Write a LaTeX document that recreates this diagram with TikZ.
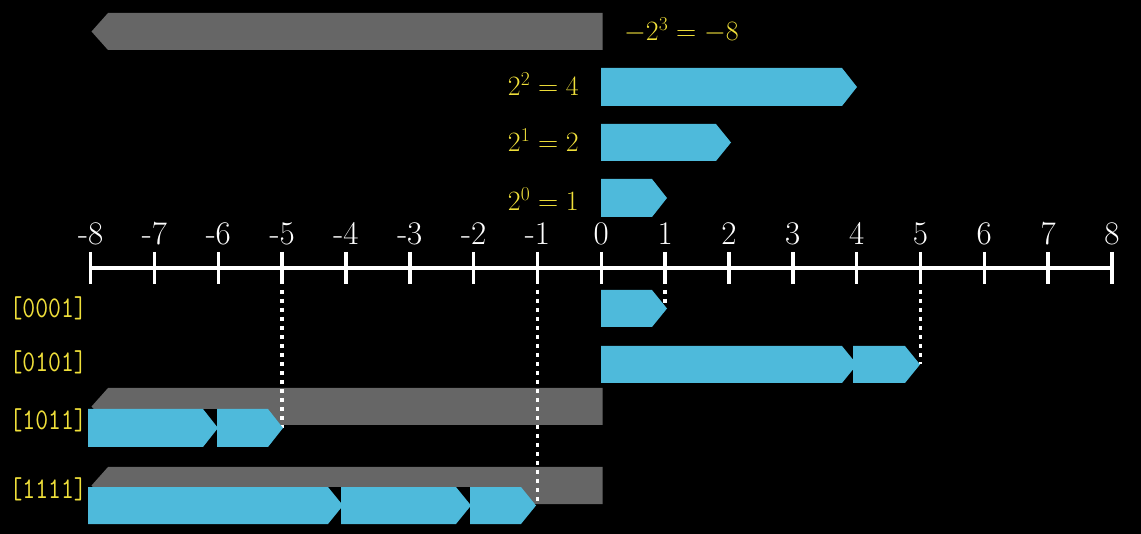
\documentclass[tikz,border=0pt]{standalone}
\usepackage{fix-cm}
\usepackage{fontspec}
\definecolor{bluec}{HTML}{4EBADB}
\definecolor{greyc}{HTML}{666666}
\definecolor{yel}{HTML}{F0E03A}
\tikzset{
  ticklab/.style={text=white, font=\fontsize{33}{36}\selectfont, anchor=base, inner sep=0pt},
  powlab/.style={text=yel, font=\fontsize{28}{32}\selectfont, inner sep=0pt},
  bitlab/.style={text=yel, font=\ttfamily\fontsize{25}{28}\selectfont, anchor=base east, inner sep=0pt},
  dotline/.style={white, line width=3.5pt, dash pattern=on 4pt off 5pt},
  axisline/.style={white, line width=4pt},
  tickline/.style={white, line width=3.5pt},
  bluefill/.style={fill=bluec},
  greyfill/.style={fill=greyc},
  notch/.style={fill=black},
}
\newcommand\bluebar[5]{%
  \fill[bluefill] (#1,#3) -- ({#2-15},#3) -- (#2,{(#3+#4)/2}) -- ({#2-15},#4) -- (#1,#4) -- cycle;
  \coordinate (#5) at (#2,{(#3+#4)/2});
}
\newcommand\greybar[2]{%
  \fill[greyfill] (602.5,#1) -- (108,#1) -- (91.5,{(#1+#2)/2}) -- (108,#2) -- (602.5,#2) -- cycle;
}
\newcommand\bits[1]{\scalebox{1}[1.2]{#1}}
\begin{document}
\begin{tikzpicture}[x=1pt,y=-1pt]
\fill[black] (0,0) rectangle (1141,534);
\useasboundingbox (0,0) rectangle (1141,534);

% powers
\greybar{13}{50}
\node[powlab, anchor=base west] (p3) at (624,41) {$-2^3=-8$};
\bluebar{601}{857}{68}{106}{b4}
\node[powlab, anchor=base east] (p2) at (579,96) {$2^2=4$};
\bluebar{601}{731}{124}{161}{b2}
\node[powlab, anchor=base east] (p1) at (579,151.5) {$2^1=2$};
\bluebar{601}{667}{179}{217}{b1}
\node[powlab, anchor=base east] (p0) at (579,210.5) {$2^0=1$};

% number line
\draw[axisline] (90.7,268) -- (1112,268);
\foreach \i in {-8,...,8}{
  \pgfmathsetmacro\xx{601.3+63.83*\i}
  \draw[tickline] (\xx,252) -- (\xx,284);
  \coordinate (t\i) at (\xx,290);
  \node[ticklab] (l\i) at (\xx,245) {\i};
}

% grey backgrounds of negative rows
\greybar{388}{425}
\greybar{467}{504}
\fill[notch] (88,409) rectangle (217,447);
\fill[notch] (88,487) rectangle (470,524);

% tip coordinates for dotted guides
\coordinate (r1) at (667,308.5);
\coordinate (r5) at (920,364.5);
\coordinate (rm5) at (283,428);
\coordinate (rm1) at (536,505.5);
\draw[dotline] (t1) -- (t1 |- r1);
\draw[dotline] (t5) -- (t5 |- r5);
\draw[dotline] (t-5) -- (t-5 |- rm5);
\draw[dotline] (t-1) -- (t-1 |- rm1);

% rows
\bluebar{601}{667}{290}{327}{s1}
\bluebar{601}{857}{346}{383}{s4}
\bluebar{853}{920}{346}{383}{s5}
\bluebar{88}{218}{409}{447}{sa}
\bluebar{217}{283}{409}{447}{sb}
\bluebar{88}{343}{487}{524}{sc}
\bluebar{341}{471}{487}{524}{sd}
\bluebar{470}{536}{487}{524}{se}

\node[bitlab] (n1) at (87,318) {\bits{[0001]}};
\node[bitlab] (n5) at (87,372) {\bits{[0101]}};
\node[bitlab] (n11) at (87,430) {\bits{[1011]}};
\node[bitlab] (n15) at (87,498) {\bits{[1111]}};
\end{tikzpicture}
\end{document}
